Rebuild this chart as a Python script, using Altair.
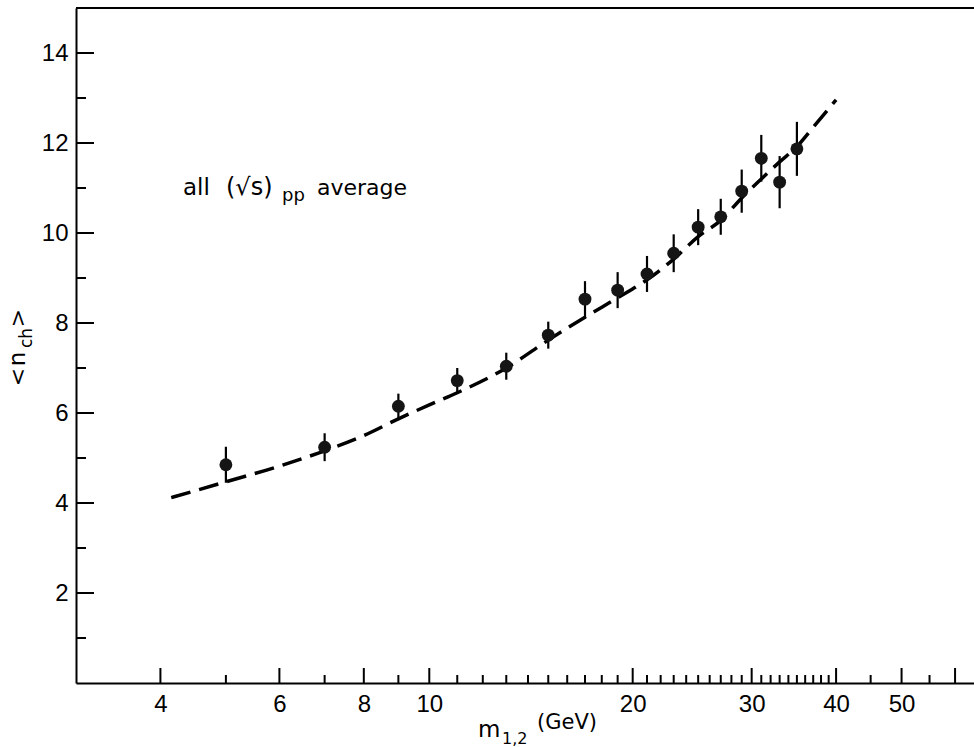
import altair as alt
import pandas as pd

# measured data points
m_vals = [5, 7, 9, 11, 13, 15, 17, 19, 21, 23, 25, 27, 29, 31, 33, 35]
n_vals = [4.85, 5.24, 6.15, 6.72, 7.04, 7.73, 8.53, 8.73, 9.09, 9.55, 10.13, 10.36, 10.93, 11.66, 11.13, 11.87]
n_err = [0.40, 0.31, 0.28, 0.28, 0.30, 0.30, 0.40, 0.40, 0.40, 0.42, 0.40, 0.40, 0.48, 0.52, 0.58, 0.60]

# dashed curve
fit_m = [4.15, 5, 6, 7, 8, 9, 10, 11, 13, 15, 17, 19, 21, 23, 25, 27, 29, 31, 33, 35, 37, 40]
fit_n = [4.12, 4.47, 4.82, 5.16, 5.5, 5.87, 6.18, 6.45, 7.0, 7.62, 8.13, 8.56, 8.96, 9.42, 9.92, 10.28, 10.78, 11.2, 11.58, 11.92, 12.35, 12.96]

# axis ticks
x_labels = [4, 6, 8, 10, 20, 30, 40, 50]
x_major = [4, 6, 8, 10, 20, 30, 40, 50, 60]
x_minor = [5, 7, 9] + list(range(11, 20)) + list(range(21, 30)) + list(range(31, 40)) + [45, 55]
y_major = [2, 4, 6, 8, 10, 12, 14]
y_minor = [1, 3, 5, 7, 9, 11, 13]

W, H = 898, 675
TICK_FONT = "Liberation Sans Narrow, Liberation Sans, DejaVu Sans"
TXT_FONT = "DejaVu Sans"

pts = pd.DataFrame({"m": m_vals, "n": n_vals, "e": n_err})
pts["lo"] = pts["n"] - pts["e"]
pts["hi"] = pts["n"] + pts["e"]
fit = pd.DataFrame({"m": fit_m, "n": fit_n})

xs = alt.Scale(type="log", domain=[3, 64])
ys = alt.Scale(domain=[0, 15])

x_axis = alt.Axis(values=x_labels, format="d", ticks=False, grid=False, domain=True,
                  domainColor="black", domainWidth=2, labelFont=TICK_FONT, labelFontSize=24,
                  labelColor="black", labelPadding=9, title=None, labelFlush=False)
y_axis = alt.Axis(values=y_major, format="d", ticks=False, grid=False, domain=True,
                  domainColor="black", domainWidth=2, labelFont=TICK_FONT, labelFontSize=24,
                  labelColor="black", labelPadding=8, title=None, labelFlush=False)


def X(field):
    return alt.X(field, type="quantitative", scale=xs, axis=x_axis)


def Y(field):
    return alt.Y(field, type="quantitative", scale=ys, axis=y_axis)


curve = alt.Chart(fit).mark_line(color="black", strokeWidth=3.5, strokeDash=[20, 9], interpolate="monotone").encode(
    x=X("m"), y=Y("n"),
)

bars = alt.Chart(pts).mark_rule(color="black", strokeWidth=2.2).encode(
    x=X("m"), y=Y("lo"), y2="hi:Q",
)

dots = alt.Chart(pts).mark_point(filled=True, shape="circle", size=165, color="#151515", opacity=1).encode(
    x=X("m"), y=Y("n"),
)


def xticks(vals, length):
    return alt.Chart(pd.DataFrame({"v": vals})).mark_rule(color="black", strokeWidth=2).encode(
        x=X("v"), y=alt.value(H), y2=alt.value(H - length))


def yticks(vals, length):
    return alt.Chart(pd.DataFrame({"v": vals})).mark_rule(color="black", strokeWidth=2).encode(
        y=Y("v"), x=alt.value(0), x2=alt.value(length))


top_line = alt.Chart(pd.DataFrame({"a": [0]})).mark_rule(color="black", strokeWidth=2).encode(
    x=alt.value(0), x2=alt.value(W), y=alt.value(0))


def label(text, x, y, size, angle=0, align="left"):
    return alt.Chart(pd.DataFrame({"t": [text]})).mark_text(
        font=TXT_FONT, fontSize=size, color="black", align=align, baseline="alphabetic", angle=angle
    ).encode(text="t:N", x=alt.value(x), y=alt.value(y))


texts = [
    label("all", 107, 187, 23),
    label("(√s)", 150, 187, 24),
    label("pp", 206, 193, 18),
    label("average", 241, 187, 22),
    label("m", 402, 729, 23),
    label("1,2", 426, 736, 16),
    label("(GeV)", 461, 721, 21),
    label("<", -51, 369, 22, angle=270, align="center"),
    label("n", -51, 351, 23, angle=270, align="center"),
    label("ch", -44, 330, 17, angle=270, align="center"),
    label(">", -51, 310, 22, angle=270, align="center"),
]

chart = alt.layer(
    curve, bars, dots,
    xticks(x_major, 15), xticks(x_minor, 8),
    yticks(y_major, 18), yticks(y_minor, 10),
    top_line, *texts,
).properties(
    width=W, height=H,
    autosize=alt.AutoSizeParams(type="none"),
    padding={"left": 76, "top": 8, "right": 0, "bottom": 64},
    background="white",
).configure_view(stroke=None)

chart.save("out.html", embed_options={"renderer": "svg", "actions": False})
